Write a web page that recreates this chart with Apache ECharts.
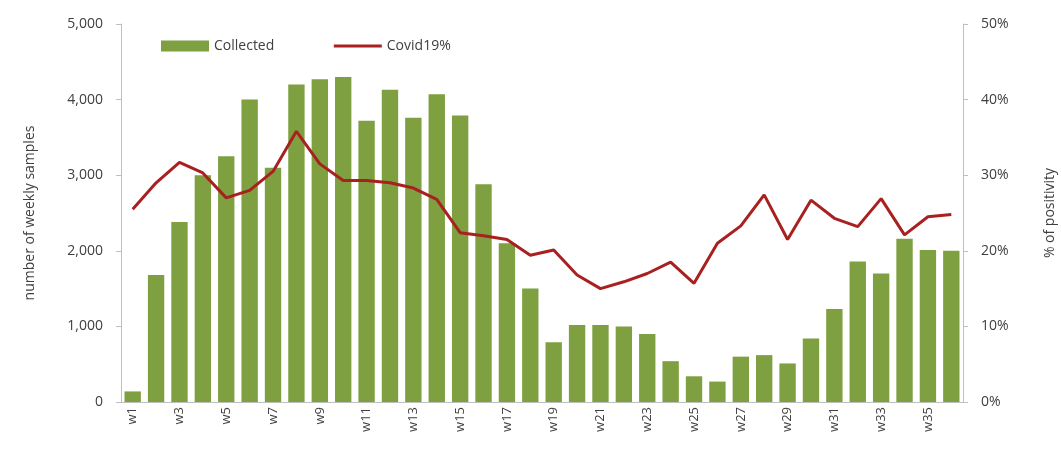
<!DOCTYPE html>
<html>
<head>
<meta charset="utf-8">
<script src="https://cdn.jsdelivr.net/npm/echarts@6/dist/echarts.min.js"></script>
<style>
  html, body { margin: 0; padding: 0; background: #fff; }
  #chart { width: 1061px; height: 452px; }
</style>
</head>
<body>
<div id="chart"></div>
<script>
// weeks w1..w36
const weeks = ["w1","w2","w3","w4","w5","w6","w7","w8","w9","w10","w11","w12",
  "w13","w14","w15","w16","w17","w18","w19","w20","w21","w22","w23","w24",
  "w25","w26","w27","w28","w29","w30","w31","w32","w33","w34","w35","w36"];

// number of weekly samples collected
const collected = [140, 1680, 2380, 3000, 3250, 4000, 3100, 4200, 4270, 4300, 3720, 4130,
  3760, 4070, 3790, 2880, 2100, 1500, 790, 1020, 1020, 1000, 900, 540,
  340, 270, 600, 620, 510, 840, 1230, 1860, 1700, 2160, 2010, 2000];

// % of positivity
const covid19 = [25.5, 29, 31.7, 30.3, 27, 28, 30.5, 35.8, 31.5, 29.3, 29.3, 29,
  28.3, 26.8, 22.4, 22, 21.5, 19.4, 20.1, 16.8, 15, 15.9, 17, 18.5,
  15.7, 21, 23.3, 27.4, 21.5, 26.7, 24.3, 23.2, 26.9, 22.1, 24.5, 24.8];

const txt = "#404040";
const axisGray = "#bfbfbf";

const chart = echarts.init(document.getElementById("chart"));
chart.setOption({
  animation: false,
  textStyle: { fontFamily: "Open Sans", color: txt },
  grid: { left: 121, right: 98, top: 24, bottom: 50, outerBoundsMode: "none" },
  legend: {
    left: 156, top: 34,
    itemGap: 58,
    itemWidth: 48, itemHeight: 11,
    textStyle: { fontSize: 14, color: txt, fontFamily: "Open Sans" },
    data: [
      { name: "Collected", icon: "rect" },
      { name: "Covid19%", itemStyle: { opacity: 0 }, lineStyle: { width: 3 } }
    ]
  },
  xAxis: {
    type: "category",
    data: weeks,
    axisLine: { lineStyle: { color: axisGray } },
    axisTick: { alignWithLabel: false, interval: 0, length: 5, lineStyle: { color: axisGray } },
    axisLabel: { rotate: 90, interval: 1, fontSize: 13, color: txt, margin: 5 }
  },
  yAxis: [
    {
      type: "value", min: 0, max: 5000, interval: 1000,
      name: "number of weekly samples",
      nameLocation: "middle", nameGap: 84, nameRotate: 90,
      nameTextStyle: { fontSize: 14, color: txt },
      axisLine: { show: true, lineStyle: { color: axisGray } },
      axisTick: { show: true, length: 5, lineStyle: { color: axisGray } },
      splitLine: { show: false },
      axisLabel: {
        fontSize: 14, color: txt, margin: 18,
        formatter: v => v.toLocaleString("en-US")
      }
    },
    {
      type: "value", min: 0, max: 50, interval: 10,
      name: "% of positivity",
      nameLocation: "middle", nameGap: 80, nameRotate: 90,
      nameTextStyle: { fontSize: 14, color: txt },
      axisLine: { show: true, lineStyle: { color: axisGray } },
      axisTick: { show: true, length: 5, lineStyle: { color: axisGray } },
      splitLine: { show: false },
      axisLabel: { fontSize: 14, color: txt, margin: 18, formatter: "{value}%" }
    }
  ],
  series: [
    {
      name: "Collected",
      type: "bar",
      data: collected,
      barCategoryGap: "30%",
      itemStyle: { color: "#7fa040" }
    },
    {
      name: "Covid19%",
      type: "line",
      yAxisIndex: 1,
      data: covid19,
      symbol: "none",
      lineStyle: { color: "#a8201f", width: 3 },
      itemStyle: { color: "#a8201f" }
    }
  ]
});
</script>
</body>
</html>
